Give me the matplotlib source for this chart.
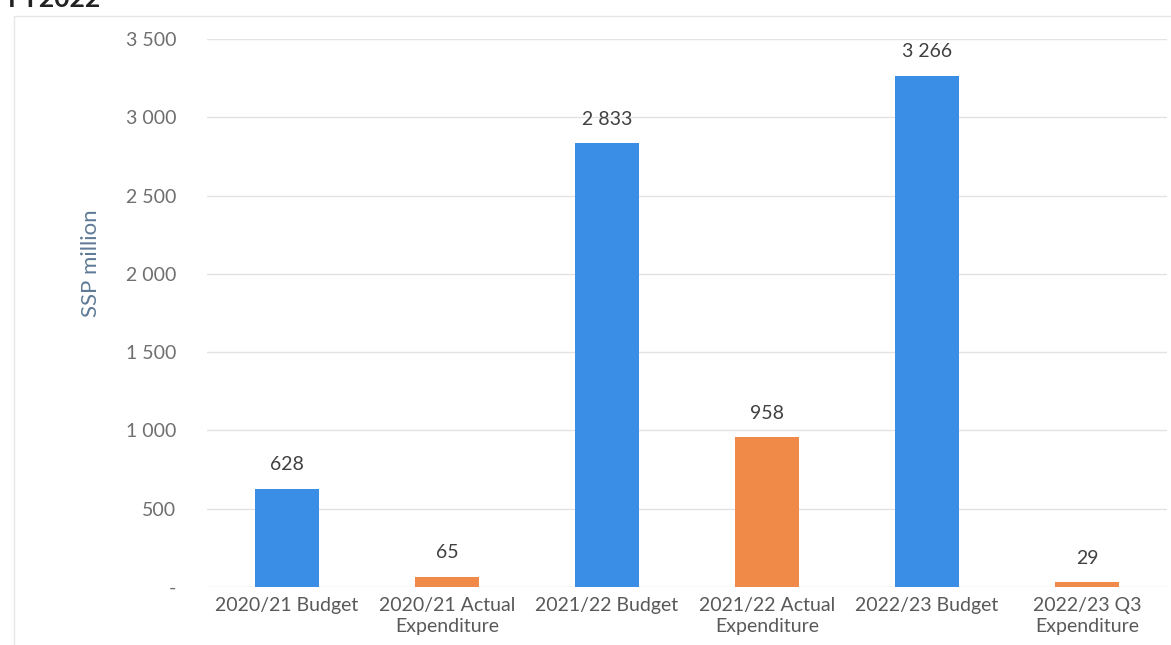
import matplotlib
matplotlib.use("Agg")
import matplotlib.pyplot as plt
from matplotlib.ticker import FuncFormatter
from matplotlib.patches import Rectangle

categories = ["2020/21 Budget", "2020/21 Actual\nExpenditure", "2021/22 Budget",
              "2021/22 Actual\nExpenditure", "2022/23 Budget", "2022/23 Q3\nExpenditure"]
values = [628, 65, 2833, 958, 3266, 29]
kinds = ["budget", "actual", "budget", "actual", "budget", "actual"]
colors_map = {"budget": "#3b8ee6", "actual": "#f08a48"}
yticks = [0, 500, 1000, 1500, 2000, 2500, 3000, 3500]

plt.rcParams['font.family'] = ['Lato', 'DejaVu Sans']

fig = plt.figure(figsize=(11.71, 6.45), dpi=100)
ax = fig.add_axes([0.1768, 0.0900, 0.8198, 0.8496])

x = list(range(len(categories)))
bars = ax.bar(x, values, width=0.40, color=[colors_map[k] for k in kinds], zorder=3)

def fmt(v, pos=None):
    if v == 0:
        return "-"
    return f"{int(v):,}".replace(",", " ")

for xi, v in zip(x, values):
    ax.annotate(fmt(v), (xi, v), xytext=(0, 11), textcoords="offset points",
                ha="center", va="bottom", fontsize=14, color="#404040")

ax.set_ylim(0, 3500)
ax.set_xlim(-0.5, len(categories) - 0.5)
ax.set_yticks(yticks)
ax.yaxis.set_major_formatter(FuncFormatter(fmt))
ax.set_xticks(x)
ax.set_xticklabels(categories, fontsize=14, color="#595959", linespacing=1.3)
ax.tick_params(axis="y", labelsize=14, labelcolor="#6f6f6f", length=0, pad=22)
ax.tick_params(axis="x", length=0, pad=7)
ax.grid(axis="y", color="#e3e3e3", linewidth=1, zorder=0)
for s in ax.spines.values():
    s.set_visible(False)
ax.set_ylabel("SSP million", fontsize=16, color="#5f7a96")
ax.yaxis.set_label_coords(-0.11, 0.59)

fig.patches.append(Rectangle((14/1171, -0.1), 1.2, 1 - 16/645 + 0.1, transform=fig.transFigure,
                             fill=False, edgecolor="#e6e6e6", linewidth=1))
fig.text(8/1171, 1 - 7/645, "FY2022", fontsize=19, fontweight="bold", color="#222222",
         ha="left", va="baseline")

fig.savefig("out.png", dpi=100)
